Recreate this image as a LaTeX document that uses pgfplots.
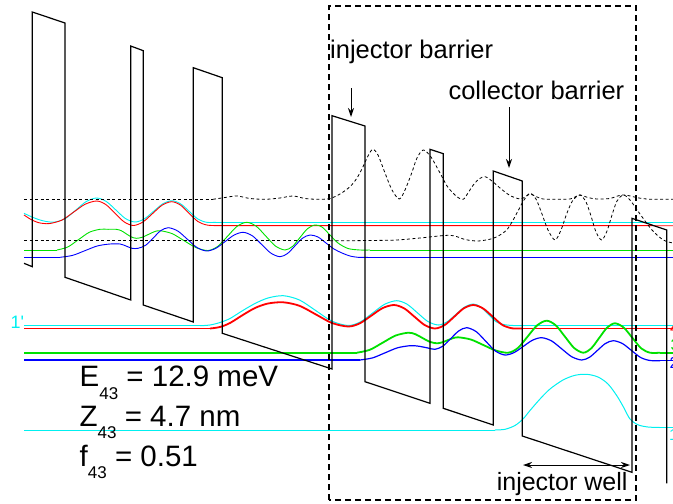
\documentclass[border=0pt]{standalone}
\usepackage{fontspec}
\setmainfont{Liberation Sans}
\usepackage{pgfplots}
\pgfplotsset{compat=1.18}
\usetikzlibrary{arrows.meta}
\definecolor{cR}{RGB}{255,0,0}
\definecolor{cG}{RGB}{0,225,0}
\definecolor{cB}{RGB}{0,0,255}
\definecolor{cC}{RGB}{0,240,240}
\begin{document}
\begin{tikzpicture}
\begin{axis}[at={(0,0)},anchor=south west,scale only axis,width=673pt,height=504pt,
  xmin=0,xmax=673,ymin=0,ymax=504,y dir=reverse,hide axis,clip=false]
% ---- upper (previous period) wavefunctions, thin
\addplot[cC,line width=0.9pt,smooth] coordinates {(24,213.3)(32,217)(40,220)(47.5,221.7)(55,222)(65.4,218.5)(75.9,210)(86.3,201.5)(96.7,198)(106.3,201.5)(115.9,210)(125.4,218.5)(135,222)(144.3,218.9)(153.5,211.4)(162.8,203.8)(172,200.7)(180.7,203.9)(189.4,211.5)(198,219.1)(206.7,222.3)(216,222.3)};
\addplot[cC,line width=0.9pt] coordinates {(216,222.3)(673,222.3)};
\addplot[cR,line width=0.9pt,smooth] coordinates {(24,215)(31,219.5)(38,222.5)(44,223.5)(50,223.5)(61.7,220.2)(73.4,212.3)(85,204.3)(96.7,201)(105.9,204.6)(115,213.3)(124.2,221.9)(133.3,225.5)(142.9,222)(152.5,213.6)(162.1,205.2)(171.7,201.7)(180.5,205.1)(189.2,213.4)(198,221.6)(206.7,225)(216,225.6)};
\addplot[cR,line width=0.9pt] coordinates {(216,225.6)(673,225.7)};
\addplot[cG,line width=0.9pt] coordinates {(24,250)(57,250)};
\addplot[cG,line width=0.9pt,smooth] coordinates {(57,250)(67.75,247)(78.5,239.65)(89.25,232.3)(100,229.3)(108,229.3)(116,229.3)(121.1,230.6)(126.25,233.8)(131.4,237)(136.5,238.3)(142.4,237.2)(148.25,234.5)(154.1,231.8)(160,230.7)(172,233.6)(184,240.6)(196,247.6)(208,250.5)(217.7,246.4)(227.4,236.4)(237,226.4)(246.7,222.3)(256.3,226.3)(265.9,236.2)(275.4,246)(285,250)(292.5,246.4)(300,237.5)(307.5,228.7)(315,225)(322,227)(330,235)(338,243)(348,248.5)(360,250)(370,250)};
\addplot[cG,line width=0.9pt] coordinates {(370,250)(673,250)};
\addplot[cB,line width=0.9pt] coordinates {(24,257.3)(60,257.3)};
\addplot[cB,line width=0.9pt,smooth] coordinates {(60,257.3)(72.5,255.4)(85,250.65)(97.5,245.9)(110,244)(120,244)(126,246)(132,248.3)(138,248.3)(145.6,245.3)(153.2,238)(160.7,230.7)(168.3,227.7)(177.9,231.1)(187.5,239.35)(197.1,247.6)(206.7,251)(215.85,248.3)(225,241.65)(234.2,235)(243.3,232.3)(252.5,235.9)(261.65,244.5)(270.8,253.1)(280,256.7)(287.5,253.5)(295,245.85)(302.5,238.2)(310,235)(318,237)(326,243)(334,249)(342,253)(350,256)(358,257.3)(368,257.3)};
\addplot[cB,line width=0.9pt] coordinates {(368,257.3)(673,257.3)};
% ---- dashed black wavefunctions
\addplot[black,line width=0.8pt,dash pattern=on 3pt off 2.5pt] coordinates {(24,199.3)(213,199.3)};
\addplot[black,line width=0.8pt,dash pattern=on 3pt off 2.5pt,smooth] coordinates {(213,199.3)(225,197.5)(237,196)(250,198.5)(265,199.3)(280,198)(293,196)(305,198.5)(318,199.3)(330,198.5)(340,194)(350,186.7)(357,178)(363,166.7)(368,156)(372.7,149.3)(378,155)(385,173)(392,190)(399.3,199)(405,190)(411.7,173)(417,158)(423.3,150)(431,157)(440,173)(447,186)(453,193)(458,197.5)(463.3,199.3)(468,193)(473.3,185)(479,179)(485,176.7)(492,181)(500,188)(510,195.5)(520,199)(525,197)(530,194)(536,196.5)(543,199)(556,199.3)(570,199)(575,197)(580,195)(588,197.5)(596.7,199)(610,198.5)(616,196.5)(622,195)(628,195.5)(633,196.7)(642,198.5)(652,199.3)(662,199.3)(673,199.3)};
\addplot[black,line width=0.8pt,dash pattern=on 3pt off 2.5pt] coordinates {(24,240.7)(330,240.7)};
\addplot[black,line width=0.8pt,dash pattern=on 3pt off 2.5pt,smooth] coordinates {(330,240.7)(350,240.7)(370,240.5)(396.7,240)(420,238)(450,235.3)(465,239.5)(476.7,241)(486,240)(493.3,238.3)(500,235)(506.7,230)(512,222)(518,211)(524,200)(530,193.3)(536,199)(542,214)(548,230)(555,240)(561,230)(567,213)(573,200)(580,195)(586,202)(591,216)(596,232)(601.7,240)(607,231)(612,215)(617,201)(623.3,195)(630,200)(640,214)(652,230)(663.3,240)(673,243)};
% ---- lower (current period) wavefunctions
\addplot[cC,line width=1pt] coordinates {(24,325.7)(200,325.7)};
\addplot[cC,line width=1pt,smooth] coordinates {(200,325.7)(210,325)(220,322.5)(230,318.5)(242,311)(255,303.5)(268,298)(283.3,295.7)(299.5,300)(315.8,310.6)(332,321.2)(348.3,325.5)(360.4,321.9)(372.5,313.1)(384.6,304.3)(396.7,300.7)(407.1,304.2)(417.5,312.85)(427.9,321.5)(438.3,325)(447,321.9)(455.8,314.5)(464.5,307.1)(473.3,304)(480.8,307)(488.3,314.25)(495.8,321.5)(503.3,324.5)(513,325.5)(523,325.5)};
\addplot[cC,line width=1pt] coordinates {(523,325.5)(673,325.5)};
\addplot[cR,line width=1.8pt] coordinates {(24,328.5)(210,328.5)};
\addplot[cR,line width=1.8pt,smooth] coordinates {(210,328.5)(220,327)(230,323)(242,315.5)(255,308)(268,303.5)(283.3,302.3)(299.5,305.8)(315.8,314.4)(332,323)(348.3,326.5)(359.7,323.4)(371.2,315.75)(382.6,308.1)(394,305)(404.25,308.4)(414.5,316.75)(424.75,325.1)(435,328.5)(444.6,325.1)(454.2,316.75)(463.7,308.4)(473.3,305)(483,308.4)(492.7,316.65)(502.3,324.9)(512,328.3)(522,328.5)};
\addplot[cR,line width=1.8pt] coordinates {(522,328.5)(673,328.5)};
\addplot[cG,line width=1.8pt] coordinates {(24,352.7)(357,352.7)};
\addplot[cG,line width=1.8pt,smooth] coordinates {(357,352.7)(369.8,349.8)(382.65,342.7)(395.5,335.6)(408.3,332.7)(415.4,334.2)(422.5,338)(429.6,341.75)(436.7,343.3)(442.1,342.4)(447.5,340.3)(452.9,338.2)(458.3,337.3)(470.8,339.5)(483.3,345)(495.8,350.5)(508.3,352.7)(517.9,348)(527.5,336.7)(537.1,325.4)(546.7,320.7)(555.85,325.4)(565,336.7)(574.15,348)(583.3,352.7)(591.2,348.4)(599.15,338)(607.1,327.6)(615,323.3)(623.75,327.6)(632.5,338)(641.25,348.4)(650,352.7)(660,352.7)};
\addplot[cG,line width=1.8pt] coordinates {(660,352.7)(673,352.7)};
\addplot[cB,line width=1.2pt] coordinates {(24,360)(360,360)};
\addplot[cB,line width=1.2pt,smooth] coordinates {(360,360)(372.5,357.9)(385,352.85)(397.5,347.8)(410,345.7)(418,346.1)(427,347.8)(435,349.3)(442.9,346.1)(450.85,338.5)(458.8,330.9)(466.7,327.7)(476.3,331.7)(485.85,341.35)(495.4,351)(505,355)(514.2,352.5)(523.35,346.35)(532.5,340.2)(541.7,337.7)(551.7,341)(561.7,348.85)(571.7,356.7)(581.7,360)(589.6,357.2)(597.5,350.35)(605.4,343.5)(613.3,340.7)(622.5,343.6)(631.65,350.6)(640.8,357.6)(650,360.5)(660,360.7)};
\addplot[cB,line width=1.2pt] coordinates {(660,360.7)(673,360.7)};
\addplot[cC,line width=1pt] coordinates {(24,430)(495,430)};
\addplot[cC,line width=1pt,smooth] coordinates {(495,430)(505,429.3)(515,425.5)(523,419)(530,410.5)(540,399)(550,389)(563,380)(575,375.3)(586.7,374.3)(598,377)(608,384)(617,396)(624,408)(630,419)(638,424.8)(648,427)(660,427.5)};
\addplot[cC,line width=1pt] coordinates {(660,427.5)(673,427.5)};
% ---- conduction band profile
\addplot[black,line width=1.2pt] coordinates {(24,263.3)(32.3,266.7)(32.3,12)(65,23)(65,277.3)(130.7,300)(130.7,46)(143.3,50.7)(143.3,305)(193.3,322)(193.3,67.7)(222.3,77.7)(222.3,333.3)(332,369)(332,115.7)(365,126)(365,381.7)(430,403.3)(430,149.3)(443.3,153.7)(443.3,408.3)(493.3,425)(493.3,171)(522.3,181)(522.3,436)(632,472.3)(632,218.3)(666.7,230)(666.7,483.3)};
% ---- dashed box
\addplot[black,line width=1.2pt,dash pattern=on 6pt off 4pt] coordinates {(329,500)(329,6)(636,6)(636,500)(329,500)};
% ---- arrows
\addplot[black,line width=1pt,-{Stealth[length=9pt,width=6pt]}] coordinates {(351,88)(351,117)};
\addplot[black,line width=1pt,-{Stealth[length=9pt,width=6pt]}] coordinates {(509,107)(509,168)};
\addplot[black,line width=1pt,{Stealth[length=9pt,width=6pt]}-{Stealth[length=9pt,width=6pt]}] coordinates {(523,465)(630,465)};
% ---- texts
\node[anchor=base west,inner sep=0pt,font=\fontsize{25.5}{30}\selectfont] at (axis cs:330,58.5) {injector barrier};
\node[anchor=base west,inner sep=0pt,font=\fontsize{25.5}{30}\selectfont] at (axis cs:448.3,99) {collector barrier};
\node[anchor=base west,inner sep=0pt,font=\fontsize{25}{30}\selectfont] at (axis cs:496.6,490) {injector well};
\node[anchor=base west,inner sep=0pt,font=\fontsize{29.5}{34}\selectfont] at (axis cs:79.5,386.7) {E\raisebox{-12.5pt}{\fontsize{17}{20}\selectfont 43} = 12.9 meV};
\node[anchor=base west,inner sep=0pt,font=\fontsize{29.5}{34}\selectfont] at (axis cs:79.5,426.7) {Z\raisebox{-12pt}{\fontsize{17}{20}\selectfont 43} = 4.7 nm};
\node[anchor=base west,inner sep=0pt,font=\fontsize{29.5}{34}\selectfont] at (axis cs:79.5,466.7) {f\raisebox{-12pt}{\fontsize{17}{20}\selectfont 43} = 0.51};
\node[anchor=base west,inner sep=0pt,text=cC,font=\fontsize{18}{22}\selectfont] at (axis cs:10.5,328) {1\textquotesingle};
\node[anchor=base west,inner sep=0pt,text=cR,font=\fontsize{16}{19}\selectfont] at (axis cs:670,333) {4};
\node[anchor=base west,inner sep=0pt,text=cG,font=\fontsize{16}{19}\selectfont] at (axis cs:670.5,350) {3};
\node[anchor=base west,inner sep=0pt,text=cB,font=\fontsize{16}{19}\selectfont] at (axis cs:669.5,368) {2};
\node[anchor=base west,inner sep=0pt,text=cC,font=\fontsize{16}{19}\selectfont] at (axis cs:669,440) {1};
\end{axis}
\pgfresetboundingbox
\useasboundingbox (0,0) rectangle (673pt,504pt);
\end{tikzpicture}
\end{document}
